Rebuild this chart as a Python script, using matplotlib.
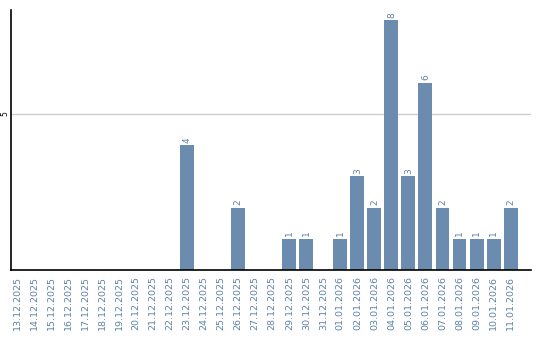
import numpy as np
import matplotlib
matplotlib.use("Agg")
import matplotlib.pyplot as plt

dates = ["13.12.2025", "14.12.2025", "15.12.2025", "16.12.2025", "17.12.2025",
         "18.12.2025", "19.12.2025", "20.12.2025", "21.12.2025", "22.12.2025",
         "23.12.2025", "24.12.2025", "25.12.2025", "26.12.2025", "27.12.2025",
         "28.12.2025", "29.12.2025", "30.12.2025", "31.12.2025", "01.01.2026",
         "02.01.2026", "03.01.2026", "04.01.2026", "05.01.2026", "06.01.2026",
         "07.01.2026", "08.01.2026", "09.01.2026", "10.01.2026", "11.01.2026"]
counts = [0, 0, 0, 0, 0, 0, 0, 0, 0, 0,
          4, 0, 0, 2, 0, 0, 1, 1, 0, 1,
          3, 2, 8, 3, 6, 2, 1, 1, 1, 2]

bar_color = "#6b8cae"
text_color = "#5f82a8"

fig = plt.figure(figsize=(5.4, 3.4), dpi=100)
ax = fig.add_axes([11 / 540, 70 / 340, 520 / 540, 260 / 340])

x = np.arange(len(dates))
ax.bar(x, counts, width=0.82, color=bar_color, zorder=2)

# value labels above non-empty bars
for xi, v in zip(x, counts):
    if v > 0:
        ax.text(xi, v + 0.08, str(v), rotation=90, ha="center", va="bottom",
                fontsize=6.5, color=text_color)

ax.set_xlim(-0.35, 30.2)
ax.set_ylim(0, 8.32)
ax.set_xticks(x)
ax.set_xticklabels(dates, rotation=90, fontsize=6.8, color=text_color)
ax.set_yticks([5])
ax.set_yticklabels(["5"], rotation=90, fontsize=5.5, va="center")
ax.tick_params(axis="x", length=0, pad=4)
ax.tick_params(axis="y", length=0, pad=1)
ax.yaxis.grid(True, color="#cccccc", linewidth=1, zorder=0)

for side in ["top", "right"]:
    ax.spines[side].set_visible(False)
for side in ["left", "bottom"]:
    ax.spines[side].set_color("black")
    ax.spines[side].set_linewidth(1.2)

fig.savefig("out.png", dpi=100)
